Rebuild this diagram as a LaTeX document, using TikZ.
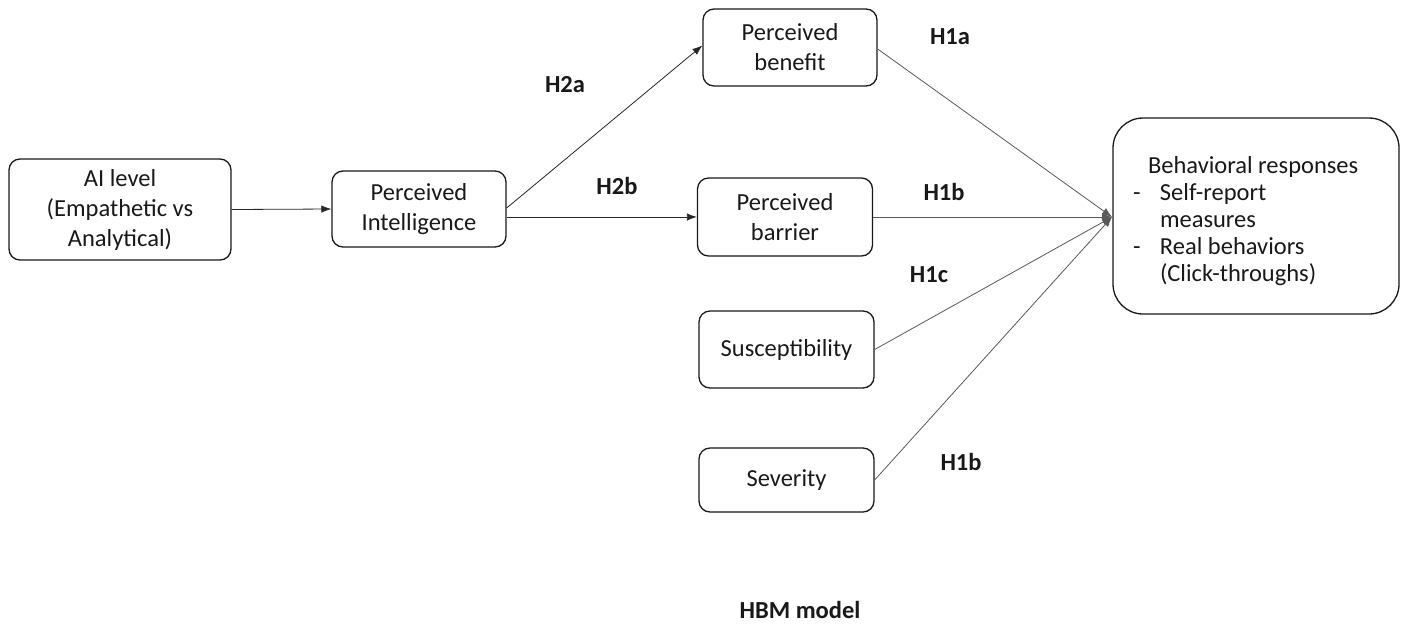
\documentclass[tikz,border=0pt]{standalone}
\usepackage{fontspec}
\setmainfont{Carlito}
\usetikzlibrary{arrows.meta}
\begin{document}
\begin{tikzpicture}[x=1pt,y=-1pt,
  box/.style={draw=black!90, line width=1.3pt, rounded corners=11pt, align=center,
    inner sep=0pt, minimum width=175pt, minimum height=77pt,
    font=\fontsize{24.5}{30}\selectfont, text=black!90},
  hyp/.style={font=\fontsize{24.5}{30}\selectfont\bfseries, text=black!90, inner sep=0pt},
  link/.style={line width=0.8pt, draw=black!85, -{Latex[length=10pt,width=7.5pt]}},
  conv/.style={line width=0.8pt, draw=black!65, -{Latex[length=10pt,width=7.5pt]}}]
\useasboundingbox (0,0) rectangle (1410,625);

% constructs
\node[box, minimum width=222pt, minimum height=101pt] (ai) at (120,209.5)
  {AI level\\(Empathetic vs\\Analytical)};
\node[box, minimum width=174pt, minimum height=76pt] (pi) at (419,209)
  {Perceived\\Intelligence};
\node[box, minimum width=174pt] (ben) at (790,47.5) {Perceived\\benefit};
\node[box, minimum width=175pt, minimum height=78pt] (bar) at (785,217) {Perceived\\barrier};
\node[box, minimum width=175pt, minimum height=77pt] (sus) at (786.5,349.5) {Susceptibility};
\node[box, minimum width=175pt, minimum height=64pt] (sev) at (786.5,480) {Severity};
\node[box, rounded corners=30pt, minimum width=286pt, minimum height=196pt,
      font=\fontsize{24.5}{27}\selectfont] (beh) at (1256,216)
  {\raisebox{-6pt}[\height][\depth]{\makebox[246pt][l]{%
   \begin{tabular}{@{}p{27pt}@{}l@{}}
     \multicolumn{2}{@{}l@{}}{\hspace*{15pt}Behavioral responses}\\
     - & Self-report\\
       & measures\\
     - & Real behaviors\\
       & (Click-throughs)
   \end{tabular}}}};

% all HBM paths meet at one point on the outcome box
\coordinate (meet) at (1112,217);

% connectors
\draw[link] (ai.east) -- (pi.west);
\draw[link] ([yshift=1pt]pi.east) -- ([yshift=2pt]ben.west);
\draw[link] ([yshift=-8pt]pi.east) -- (bar.west);
\draw[conv] ([yshift=-1.5pt]ben.east) -- (meet);
\draw[conv] (bar.east) -- (meet);
\draw[conv] (sus.east) -- (meet);
\draw[conv] (sev.east) -- (meet);

% hypothesis labels
\node[hyp] (h2a) at (565,85) {H2a};
\node[hyp] (h2b) at (617,186) {H2b};
\node[hyp] (h1a) at (950,37) {H1a};
\node[hyp] (h1b) at (944,192) {H1b};
\node[hyp] (h1c) at (929,275) {H1c};
\node[hyp] (h1d) at (961,462) {H1b};

% caption
\node[hyp] (cap) at (800,610) {HBM model};
\end{tikzpicture}
\end{document}
